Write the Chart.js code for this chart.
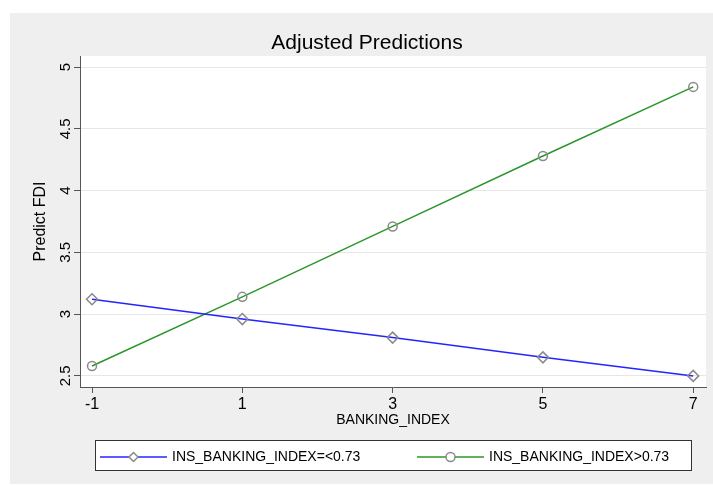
<!DOCTYPE html>
<html>
<head>
<meta charset="utf-8">
<script src="https://cdn.jsdelivr.net/npm/chart.js@4.4.1/dist/chart.umd.min.js"></script>
<style>
  html, body { margin: 0; padding: 0; background: #ffffff; }
  #wrap { width: 713px; height: 485px; position: relative; }
</style>
</head>
<body>
<div id="wrap"><canvas id="chart" width="713" height="485"></canvas></div>
<script>
// data
const bankingIndex = [-1, 1, 3, 5, 7];
const lowIns = [3.12, 2.96, 2.81, 2.65, 2.5];
const highIns = [2.58, 3.14, 3.71, 4.28, 4.84];
const xTicks = [-1, 1, 3, 5, 7];
const yTicks = [2.5, 3, 3.5, 4, 4.5, 5];
const seriesNames = ["INS_BANKING_INDEX=<0.73", "INS_BANKING_INDEX>0.73"];

const FONT = "'Liberation Sans', Arial, Helvetica, sans-serif";
const BLUE = "#2424ff";
const GREEN = "#2a962a";
const MARKER = "#8a8a8a";

// background, title, rotated y tick labels and the boxed legend
const stataLook = {
  id: "stataLook",
  beforeDraw(chart) {
    const ctx = chart.ctx;
    const a = chart.chartArea;
    ctx.save();
    ctx.fillStyle = "#ffffff";
    ctx.fillRect(0, 0, chart.width, chart.height);
    ctx.fillStyle = "#efefef";
    ctx.fillRect(10, 13, chart.width - 10, chart.height - 14);
    ctx.fillStyle = "#ffffff";
    ctx.fillRect(a.left, a.top, a.right - a.left, a.bottom - a.top);
    ctx.restore();
  },
  afterDraw(chart) {
    const ctx = chart.ctx;
    const y = chart.scales.y;
    ctx.save();
    // title
    ctx.fillStyle = "#000";
    ctx.font = "21px " + FONT;
    ctx.textAlign = "center";
    ctx.textBaseline = "middle";
    ctx.fillText("Adjusted Predictions", 367, 43);
    // y tick labels, turned like the original
    ctx.font = "15px " + FONT;
    yTicks.forEach((v) => {
      const py = y.getPixelForValue(v);
      ctx.save();
      ctx.translate(66, py);
      ctx.rotate(-Math.PI / 2);
      ctx.fillText(String(v), 0, 0);
      ctx.restore();
    });
    // legend box
    ctx.fillStyle = "#ffffff";
    ctx.fillRect(95, 440, 596, 30);
    ctx.strokeStyle = "#333";
    ctx.lineWidth = 1;
    ctx.strokeRect(95.5, 440.5, 596, 30);
    const items = [
      { x0: 100, x1: 167, color: BLUE, style: "rectRot", text: seriesNames[0], tx: 172 },
      { x0: 417, x1: 484, color: GREEN, style: "circle", text: seriesNames[1], tx: 489 },
    ];
    items.forEach((it) => {
      const ly = 457;
      ctx.strokeStyle = it.color;
      ctx.lineWidth = 1.5;
      ctx.beginPath();
      ctx.moveTo(it.x0, ly);
      ctx.lineTo(it.x1, ly);
      ctx.stroke();
      ctx.fillStyle = "#ffffff";
      ctx.strokeStyle = MARKER;
      ctx.lineWidth = 1.5;
      Chart.helpers.drawPoint(ctx, { pointStyle: it.style, radius: 4.5, rotation: 0, borderWidth: 1.5 },
        (it.x0 + it.x1) / 2, ly);
      ctx.fillStyle = "#000";
      ctx.font = "14px " + FONT;
      ctx.textAlign = "left";
      ctx.textBaseline = "middle";
      ctx.fillText(it.text, it.tx, ly);
    });
    ctx.restore();
  },
};

new Chart(document.getElementById("chart"), {
  type: "line",
  data: {
    datasets: [
      {
        label: seriesNames[0],
        data: bankingIndex.map((x, i) => ({ x: x, y: lowIns[i] })),
        borderColor: BLUE,
        borderWidth: 1.5,
        pointStyle: "rectRot",
        pointRadius: 5.5,
        pointBorderColor: MARKER,
        pointBackgroundColor: "rgba(255,255,255,0)",
        pointBorderWidth: 1.5,
        tension: 0,
      },
      {
        label: seriesNames[1],
        data: bankingIndex.map((x, i) => ({ x: x, y: highIns[i] })),
        borderColor: GREEN,
        borderWidth: 1.5,
        pointStyle: "circle",
        pointRadius: 4.5,
        pointBorderColor: MARKER,
        pointBackgroundColor: "rgba(255,255,255,0)",
        pointBorderWidth: 1.5,
        tension: 0,
      },
    ],
  },
  options: {
    responsive: false,
    animation: false,
    layout: { padding: { left: 30, right: 6, top: 56, bottom: 56 } },
    plugins: {
      legend: { display: false },
      tooltip: { enabled: false },
    },
    scales: {
      x: {
        type: "linear",
        min: -1.16,
        max: 7.17,
        afterBuildTicks: (s) => { s.ticks = xTicks.map((v) => ({ value: v })); },
        afterFit: (s) => { s.height = 42; },
        grid: { drawOnChartArea: false, tickLength: 6, tickColor: "#555" },
        border: { color: "#555", width: 1 },
        ticks: { color: "#000", font: { family: FONT, size: 16 }, padding: 2, maxRotation: 0 },
        title: {
          display: true,
          text: "BANKING_INDEX",
          color: "#000",
          font: { family: FONT, size: 14 },
          padding: { top: 0, bottom: 0 },
        },
      },
      y: {
        min: 2.41,
        max: 5.09,
        afterBuildTicks: (s) => { s.ticks = yTicks.map((v) => ({ value: v })); },
        afterFit: (s) => { s.width = 50; },
        grid: { color: "#e6e6e6", lineWidth: 1, tickLength: 6, tickColor: "#555" },
        border: { color: "#555", width: 1 },
        ticks: { display: false },
        title: {
          display: true,
          text: "Predict FDI",
          color: "#000",
          font: { family: FONT, size: 16 },
          padding: { top: 1, bottom: 0 },
        },
      },
    },
  },
  plugins: [stataLook],
});
</script>
</body>
</html>
